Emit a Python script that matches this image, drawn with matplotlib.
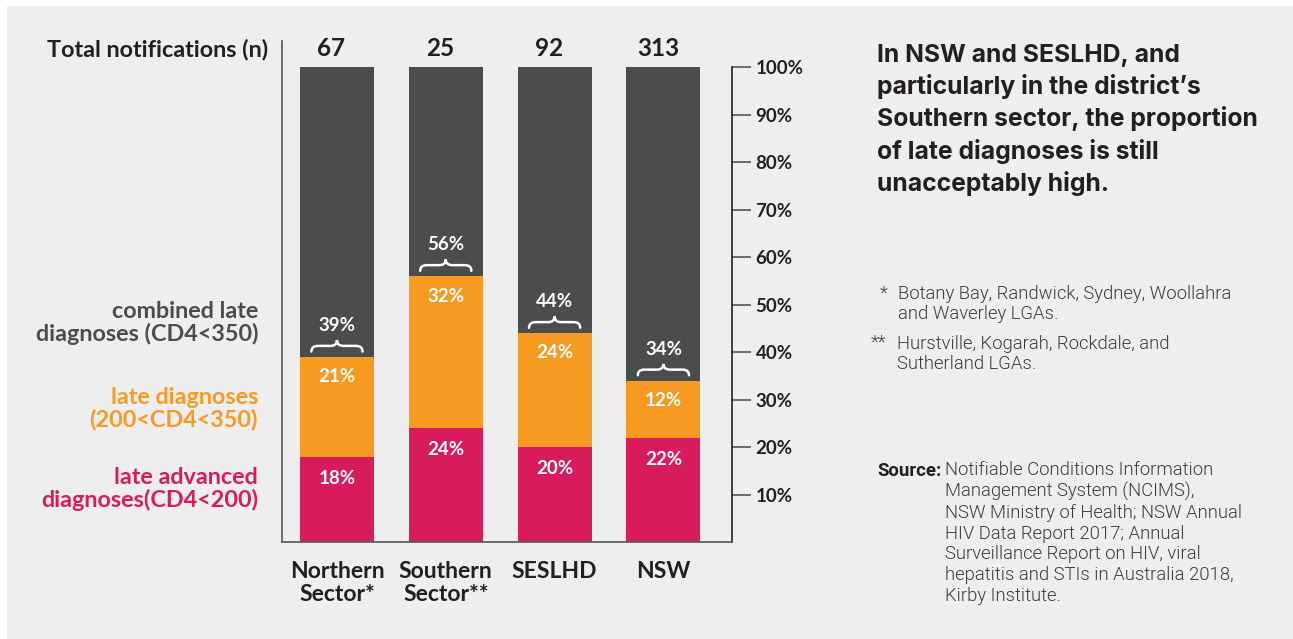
import matplotlib
matplotlib.use("Agg")
import matplotlib.pyplot as plt
from matplotlib.path import Path
from matplotlib.patches import PathPatch, Rectangle
import numpy as np

# data
regions = ["Northern\nSector*", "Southern\nSector**", "SESLHD", "NSW"]
totals = [67, 25, 92, 313]
late_advanced = [18, 24, 20, 22]
late = [21, 32, 24, 12]
combined = [39, 56, 44, 34]
y_ticks = [10, 20, 30, 40, 50, 60, 70, 80, 90, 100]

GREY = "#4b4c4e"
ORANGE = "#f69a22"
PINK = "#d81b5c"
BG = "#eeeeee"
TXT = "#231f20"
NOTE = "#3c3c3c"

fig = plt.figure(figsize=(12.93, 6.39), dpi=100)
fig.patch.set_facecolor("white")
fig.add_artist(Rectangle((7 / 1293, 0), 1, 1 - 6 / 639, transform=fig.transFigure,
                         fc=BG, ec="none", zorder=-10))

W, H = 1293, 639
ax = fig.add_axes([282 / W, (H - 542) / H, 450 / W, (542 - 41) / H])
ax.set_facecolor("none")

x = np.arange(len(regions))
bw = 0.68
ax.bar(x, late_advanced, bw, color=PINK, zorder=2)
ax.bar(x, late, bw, bottom=late_advanced, color=ORANGE, zorder=2)
top = [a + b for a, b in zip(late_advanced, late)]
ax.bar(x, [100 - t for t in top], bw, bottom=top, color=GREY, zorder=2)

ax.set_xlim(-0.505, 3.63)
ax.set_ylim(0, 105.5)

# spines
ax.spines["top"].set_visible(False)
ax.spines["left"].set_color("#555555")
ax.spines["left"].set_linewidth(1.2)
ax.spines["bottom"].set_color("#555555")
ax.spines["bottom"].set_linewidth(1.2)
ax.spines["right"].set_color(TXT)
ax.spines["right"].set_linewidth(1.2)
ax.spines["right"].set_bounds(0, 100)

ax.set_xticks([])
ax.yaxis.tick_right()
ax.tick_params(axis="y", left=False, right=True, length=14, width=1.2,
               color="#555555", pad=3, labelsize=13.5, labelcolor=TXT)
ax.set_yticks(y_ticks)
ax.set_yticklabels([f"{t}%" for t in y_ticks], fontweight="bold", family="Lato")

lab = dict(ha="center", va="center", color="white", fontsize=13.5,
           fontweight="bold", family="Lato", zorder=3)
for i in range(len(regions)):
    ax.text(x[i], late_advanced[i] - 4.6, f"{late_advanced[i]}%", **lab)
    ax.text(x[i], top[i] - 4.2, f"{late[i]}%", **lab)
    ax.text(x[i], top[i] + 6.6, f"{combined[i]}%", **lab)
    # brace over the combined share
    b = top[i] + 1.1
    h = 2.4
    hw = 0.235
    r = 0.06
    xc = x[i]
    verts = [(xc - hw, b), (xc - hw, b + h / 2), (xc - hw + r, b + h / 2),
             (xc - r, b + h / 2), (xc, b + h / 2), (xc, b + h),
             (xc, b + h / 2), (xc + r, b + h / 2),
             (xc + hw - r, b + h / 2), (xc + hw, b + h / 2), (xc + hw, b)]
    codes = [Path.MOVETO, Path.CURVE3, Path.CURVE3, Path.LINETO, Path.CURVE3, Path.CURVE3,
             Path.CURVE3, Path.CURVE3, Path.LINETO, Path.CURVE3, Path.CURVE3]
    ax.add_patch(PathPatch(Path(verts, codes), fc="none", ec="white", lw=1.8,
                           capstyle="round", zorder=3))
    # totals
    ax.text(x[i] - 0.05, 104.0, str(totals[i]), ha="center", va="center",
            color=TXT, fontsize=17.5, fontweight="bold", family="Lato")
    # category labels
    ax.annotate(regions[i], (x[i], 0), xytext=(0, -14), textcoords="offset points",
                ha="center", va="top", color=TXT, fontsize=16.5, fontweight="bold",
                family="Lato", linespacing=1.07, annotation_clip=False)

# left side labels
fig.text(268 / W, 1 - 50 / H, "Total notifications (n)", ha="right", va="center",
         color=TXT, fontsize=16.8, fontweight="bold", family="Lato")
side = dict(ha="right", va="center", fontsize=16.8, fontweight="bold", family="Lato",
            linespacing=1.05)
fig.text(258 / W, 1 - 323 / H, "combined late\ndiagnoses (CD4<350)", color=GREY, **side)
fig.text(258 / W, 1 - 409 / H, "late diagnoses\n(200<CD4<350)", color=ORANGE, **side)
fig.text(258 / W, 1 - 489 / H, "late advanced\ndiagnoses(CD4<200)", color=PINK, **side)

# right side text
fig.text(877 / W, 1 - 44 / H,
         "In NSW and SESLHD, and\nparticularly in the district\u2019s\nSouthern sector, the proportion\n"
         "of late diagnoses is still\nunacceptably high.",
         ha="left", va="top", color=TXT, fontsize=17.8, fontweight="bold", family="Inter",
         linespacing=1.36)

note = dict(ha="left", va="center", color=NOTE, fontsize=13.3, family="Roboto", fontweight=300)
fig.text(880 / W, 1 - 294 / H, "*", **note)
fig.text(898 / W, 1 - 304 / H, "Botany Bay, Randwick, Sydney, Woollahra\nand Waverley LGAs.",
         linespacing=1.15, **note)
fig.text(871 / W, 1 - 343 / H, "**", **note)
fig.text(897 / W, 1 - 354 / H, "Hurstville, Kogarah, Rockdale, and\nSutherland LGAs.",
         linespacing=1.15, **note)

fig.text(877 / W, 1 - 471 / H, "Source:", ha="left", va="center", color=TXT, fontsize=13.3,
         fontweight="bold", family="Roboto")
fig.text(945 / W, 1 - 461 / H,
         "Notifiable Conditions Information\nManagement System (NCIMS),\nNSW Ministry of Health; NSW Annual\n"
         "HIV Data Report 2017; Annual\nSurveillance Report on HIV, viral\nhepatitis and STIs in Australia 2018,\n"
         "Kirby Institute.",
         ha="left", va="top", color=NOTE, fontsize=13.3, family="Roboto", fontweight=300,
         linespacing=1.2)

fig.savefig("out.png", dpi=100, facecolor=fig.get_facecolor())
